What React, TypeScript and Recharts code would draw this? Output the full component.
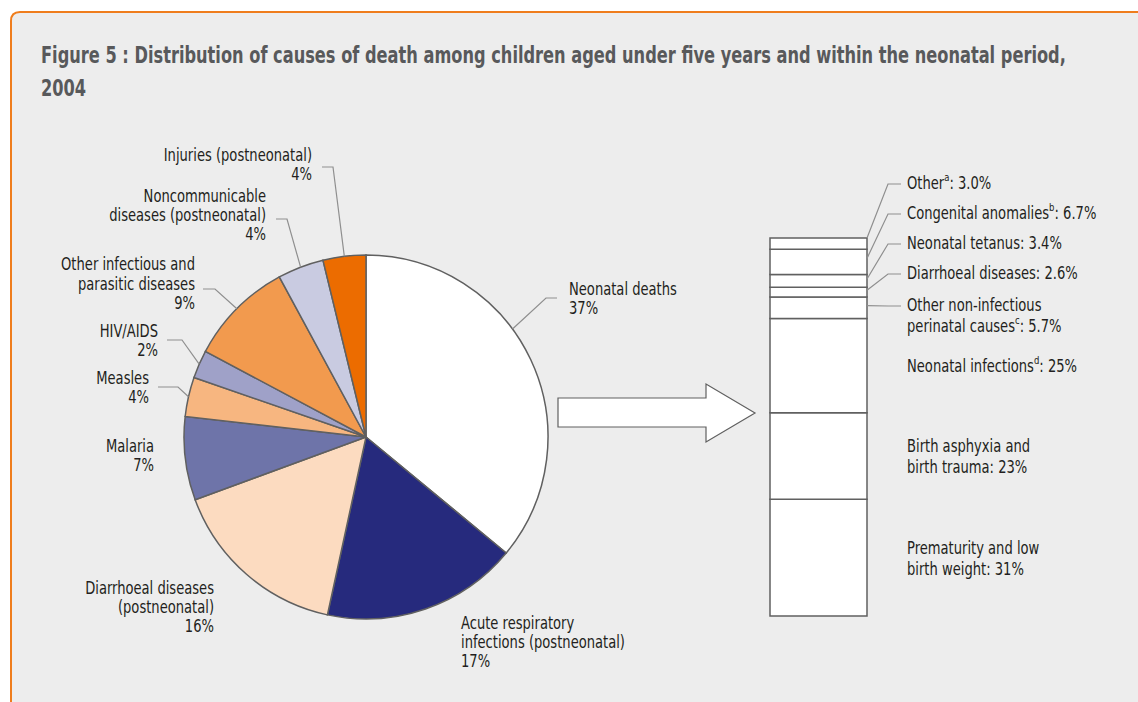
import React from 'react';
import { PieChart, Pie, Cell, BarChart, Bar, XAxis, YAxis } from 'recharts';

// ---------- Data ----------
const pieCategories = [
  'Neonatal deaths',
  'Acute respiratory infections (postneonatal)',
  'Diarrhoeal diseases (postneonatal)',
  'Malaria',
  'Measles',
  'HIV/AIDS',
  'Other infectious and parasitic diseases',
  'Noncommunicable diseases (postneonatal)',
  'Injuries (postneonatal)',
];
const pieValues = [36, 17.4, 16, 7.4, 3.5, 2.5, 9.3, 4.1, 3.8];
const pieLabelLines = [
  ['Neonatal deaths', '37%'],
  ['Acute respiratory', 'infections (postneonatal)', '17%'],
  ['Diarrhoeal diseases', '(postneonatal)', '16%'],
  ['Malaria', '7%'],
  ['Measles', '4%'],
  ['HIV/AIDS', '2%'],
  ['Other infectious and', 'parasitic diseases', '9%'],
  ['Noncommunicable', 'diseases (postneonatal)', '4%'],
  ['Injuries (postneonatal)', '4%'],
];

const neonatalCategories = [
  'Prematurity and low birth weight',
  'Birth asphyxia and birth trauma',
  'Neonatal infections',
  'Other non-infectious perinatal causes',
  'Diarrhoeal diseases',
  'Neonatal tetanus',
  'Congenital anomalies',
  'Other',
];
const neonatalValues = [31, 23, 25, 5.7, 2.6, 3.4, 6.7, 3.0];
const neonatalLabelLines = [
  ['Prematurity and low', 'birth weight: 31%'],
  ['Birth asphyxia and', 'birth trauma: 23%'],
  ['Neonatal infections^d: 25%'],
  ['Other non-infectious', 'perinatal causes^c: 5.7%'],
  ['Diarrhoeal diseases: 2.6%'],
  ['Neonatal tetanus: 3.4%'],
  ['Congenital anomalies^b: 6.7%'],
  ['Other^a: 3.0%'],
];

const titleLines = [
  'Figure 5 : Distribution of causes of death among children aged under five years and within the neonatal period,',
  '2004',
];

// ---------- Styles / layout ----------
const FONT = "'DejaVu Sans Condensed', 'DejaVu Sans', sans-serif";
const LABEL_SIZE = 17;
const LABEL_SX = 0.857;
const TITLE_SIZE = 23;
const TITLE_SX = 0.784;
const TEXT_COLOR = '#231f20';
const LEADER = '#8f8f8f';
const EDGE = '#606060';
const pieColors = ['#ffffff', '#262a7d', '#fcdbc0', '#6e74a9', '#f7b680', '#9fa1c8', '#f29a4e', '#c9cbe1', '#ec6c00'];

type PieLayout = {
  anchor: 'start' | 'end';
  x: number;
  ys: number[];
  elbow?: [number, number, number];
  angle?: number;
};
const pieLabelLayout: PieLayout[] = [
  { anchor: 'start', x: 569, ys: [289, 308], elbow: [546, 557, 298], angle: 36.4 },
  { anchor: 'start', x: 461, ys: [623, 642, 661] },
  { anchor: 'end', x: 214, ys: [588, 607, 626] },
  { anchor: 'end', x: 154, ys: [446, 465] },
  { anchor: 'end', x: 149, ys: [378, 397], elbow: [178, 158, 387] },
  { anchor: 'end', x: 158, ys: [331, 350], elbow: [182, 167, 340] },
  { anchor: 'end', x: 195, ys: [264, 283.5, 303], elbow: [215, 203, 289] },
  { anchor: 'end', x: 266, ys: [196, 215, 234], elbow: [287, 276, 219] },
  { anchor: 'end', x: 312, ys: [155, 174], elbow: [333, 322, 167] },
];

type BarLayout = { ys?: number[]; frac?: number };
const barLabelLayout: BarLayout[] = [
  {},
  {},
  {},
  { ys: [305, 325.5], frac: 0.4 },
  { ys: [273], frac: 0.3 },
  { ys: [243], frac: 0.35 },
  { ys: [213], frac: 0.36 },
  { ys: [183], frac: 0 },
];

const pieData = pieCategories.map((name, i) => ({ name, value: pieValues[i] }));
const barKeys = neonatalCategories.map((_, i) => `s${i}`);
const barData = [
  neonatalValues.reduce((row: any, v, i) => {
    row[barKeys[i]] = v;
    return row;
  }, { name: 'Neonatal deaths' }),
];

const RAD = Math.PI / 180;

function renderLine(line: string, key: string | number, x: number, y: number, anchor: string) {
  const parts = line.split(/\^(\w)/);
  const children: any[] = [];
  parts.forEach((p, i) => {
    if (i % 2 === 1) {
      children.push(
        <tspan key={i} dy={-6} fontSize={11}>
          {p}
        </tspan>
      );
    } else if (p.length) {
      children.push(
        <tspan key={i} dy={i > 0 ? 6 : 0}>
          {p}
        </tspan>
      );
    }
  });
  return (
    <text
      key={key}
      x={0}
      y={0}
      transform={`translate(${x},${y}) scale(${LABEL_SX},1)`}
      textAnchor={anchor as any}
      dominantBaseline="central"
      fontFamily={FONT}
      fontSize={LABEL_SIZE}
      fill={TEXT_COLOR}
    >
      {children}
    </text>
  );
}

const renderPieLabel = (props: any) => {
  const { cx, cy, midAngle, outerRadius, index } = props;
  const lay = pieLabelLayout[index];
  const lines = pieLabelLines[index];
  let leader = null;
  if (lay.elbow) {
    const a = lay.angle !== undefined ? lay.angle : midAngle;
    const px = cx + outerRadius * Math.cos(-a * RAD);
    const py = cy + outerRadius * Math.sin(-a * RAD);
    const [x1, x2, ly] = lay.elbow;
    leader = (
      <polyline
        points={`${px},${py} ${x1},${ly} ${x2},${ly}`}
        fill="none"
        stroke={LEADER}
        strokeWidth={1.2}
      />
    );
  }
  return (
    <g key={`pl-${index}`}>
      {leader}
      {lines.map((l, i) => renderLine(l, i, lay.x, lay.ys[i], lay.anchor))}
    </g>
  );
};

const makeBarLabel = (seriesIndex: number) => (props: any) => {
  const { x, y, width, height } = props;
  const lay = barLabelLayout[seriesIndex];
  const lines = neonatalLabelLines[seriesIndex];
  const right = x + width;
  const tx = right + 40;
  if (!lay.ys) {
    const c = y + height / 2;
    const n = lines.length;
    return (
      <g key={`bl-${seriesIndex}`}>
        {lines.map((l, i) => renderLine(l, i, tx, c + (i - (n - 1) / 2) * 21, 'start'))}
      </g>
    );
  }
  const ay = y + (lay.frac || 0) * height;
  const ly = lay.ys[0] + 1;
  return (
    <g key={`bl-${seriesIndex}`}>
      <polyline
        points={`${right},${ay} ${right + 21},${ly} ${right + 34},${ly}`}
        fill="none"
        stroke={LEADER}
        strokeWidth={1.2}
      />
      {lines.map((l, i) => renderLine(l, i, tx, lay.ys![i], 'start'))}
    </g>
  );
};

export default function App() {
  const W = 1138;
  const H = 702;
  return (
    <div style={{ position: 'absolute', left: 0, top: 0, width: W, height: H, background: '#ffffff' }}>
      <svg width={W} height={H} style={{ position: 'absolute', left: 0, top: 0 }}>
        <path
          d={`M11,${H + 5} L11,21 Q11,12 20,12 L${W + 5},12 L${W + 5},${H + 5} Z`}
          fill="#ededed"
          stroke="none"
        />
        <path
          d={`M11,${H + 5} L11,21 Q11,12 20,12 L${W + 5},12`}
          fill="none"
          stroke="#ef7d1d"
          strokeWidth={2}
        />
        {titleLines.map((t, i) => (
          <text
            key={i}
            x={0}
            y={0}
            transform={`translate(41,${55 + i * 33}) scale(${TITLE_SX},1)`}
            dominantBaseline="central"
            fontFamily={FONT}
            fontWeight="bold"
            fontSize={TITLE_SIZE}
            fill="#58595b"
          >
            {t}
          </text>
        ))}
        <polygon
          points="558,398 706,398 706,384 755,413 706,442 706,427 558,427"
          fill="#ffffff"
          stroke={EDGE}
          strokeWidth={1.2}
        />
      </svg>
      <div style={{ position: 'absolute', left: 0, top: 0 }}>
        <PieChart width={W} height={H}>
          <Pie
            data={pieData}
            dataKey="value"
            nameKey="name"
            cx={361}
            cy={432}
            outerRadius={182}
            startAngle={90}
            endAngle={-270}
            stroke={EDGE}
            strokeWidth={1.5}
            label={renderPieLabel}
            labelLine={false}
            isAnimationActive={false}
          >
            {pieData.map((d, i) => (
              <Cell key={d.name} fill={pieColors[i]} stroke={EDGE} strokeWidth={1.5} />
            ))}
          </Pie>
        </PieChart>
      </div>
      <div style={{ position: 'absolute', left: 0, top: 0 }}>
        <BarChart
          width={W}
          height={H}
          data={barData}
          margin={{ top: 238, bottom: H - 616, left: 770, right: W - 867 }}
          barCategoryGap={0}
          barGap={0}
        >
          <XAxis dataKey="name" hide />
          <YAxis hide domain={[0, 'dataMax']} />
          {barKeys.map((k, i) => (
            <Bar
              key={k}
              dataKey={k}
              name={neonatalCategories[i]}
              stackId="neo"
              fill="#ffffff"
              stroke={EDGE}
              strokeWidth={1.5}
              label={makeBarLabel(i)}
              isAnimationActive={false}
            />
          ))}
        </BarChart>
      </div>
    </div>
  );
}
